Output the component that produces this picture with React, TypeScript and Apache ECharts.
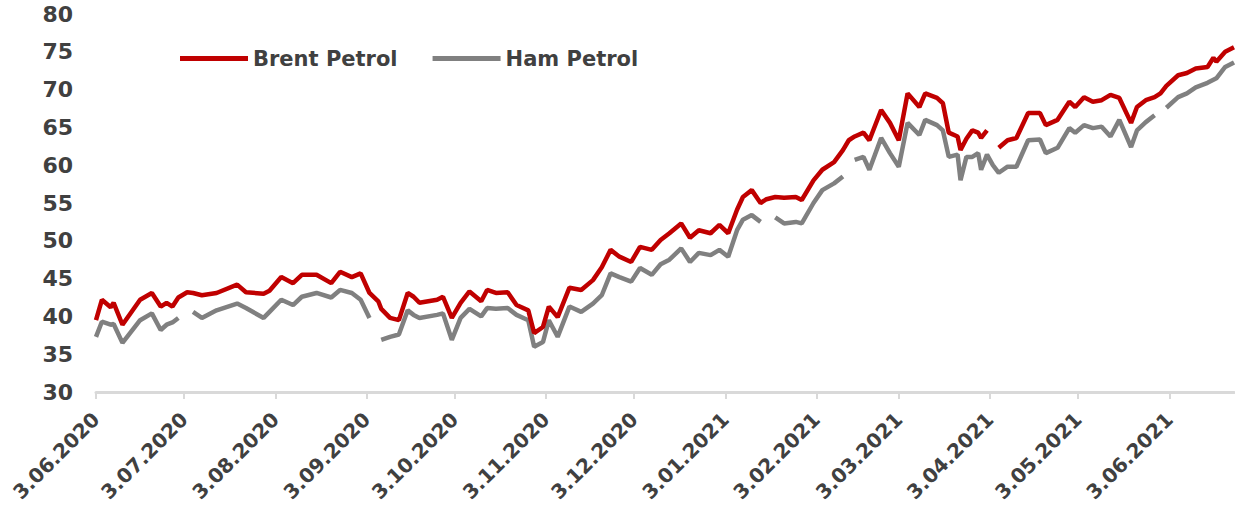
import React, { useEffect, useRef } from "react";
import * as echarts from "echarts";

// Sample dates (calendar days) and closing prices, USD/barrel
const dates = [
  "2020-06-03", "2020-06-05", "2020-06-08", "2020-06-09", "2020-06-12", "2020-06-18", "2020-06-22", "2020-06-25",
  "2020-06-27", "2020-06-29", "2020-07-01", "2020-07-04", "2020-07-06", "2020-07-09", "2020-07-14", "2020-07-21",
  "2020-07-24", "2020-07-30", "2020-08-01", "2020-08-05", "2020-08-09", "2020-08-12", "2020-08-17", "2020-08-22",
  "2020-08-25", "2020-08-29", "2020-09-01", "2020-09-04", "2020-09-07", "2020-09-08", "2020-09-11", "2020-09-14",
  "2020-09-17", "2020-09-19", "2020-09-21", "2020-09-27", "2020-09-29", "2020-10-02", "2020-10-05", "2020-10-08",
  "2020-10-12", "2020-10-14", "2020-10-17", "2020-10-21", "2020-10-24", "2020-10-28", "2020-10-30", "2020-11-02",
  "2020-11-04", "2020-11-07", "2020-11-11", "2020-11-15", "2020-11-19", "2020-11-22", "2020-11-25", "2020-11-28",
  "2020-12-02", "2020-12-05", "2020-12-09", "2020-12-12", "2020-12-15", "2020-12-19", "2020-12-22", "2020-12-25",
  "2020-12-29", "2021-01-01", "2021-01-04", "2021-01-07", "2021-01-09", "2021-01-12", "2021-01-15", "2021-01-17",
  "2021-01-20", "2021-01-23", "2021-01-27", "2021-01-29", "2021-02-02", "2021-02-05", "2021-02-09", "2021-02-12",
  "2021-02-14", "2021-02-16", "2021-02-19", "2021-02-21", "2021-02-25", "2021-02-28", "2021-03-03", "2021-03-06",
  "2021-03-10", "2021-03-12", "2021-03-16", "2021-03-18", "2021-03-20", "2021-03-23", "2021-03-24", "2021-03-26",
  "2021-03-28", "2021-03-30", "2021-03-31", "2021-04-02", "2021-04-04", "2021-04-06", "2021-04-09", "2021-04-12",
  "2021-04-16", "2021-04-20", "2021-04-22", "2021-04-26", "2021-04-30", "2021-05-02", "2021-05-05", "2021-05-08",
  "2021-05-11", "2021-05-14", "2021-05-17", "2021-05-21", "2021-05-23", "2021-05-26", "2021-05-29", "2021-05-31",
  "2021-06-02", "2021-06-06", "2021-06-09", "2021-06-12", "2021-06-16", "2021-06-18", "2021-06-19", "2021-06-22",
  "2021-06-25",
];

// null = no quote that day (line breaks there)
const brent: (number | null)[] = [
  39.5, 42.2, 41.2, 41.8, 38.9, 42.2, 43.1, 41.3,
  41.8, 41.3, 42.5, 43.2, 43.1, 42.8, 43.1, 44.2,
  43.2, 43.0, 43.4, 45.2, 44.4, 45.5, 45.5, 44.4,
  45.9, 45.2, 45.7, 43.1, 42.0, 41.0, 39.8, 39.5,
  43.1, 42.6, 41.8, 42.2, 42.6, 39.8, 41.8, 43.3,
  42.0, 43.5, 43.1, 43.2, 41.5, 40.8, 37.8, 38.6,
  41.3, 39.9, 43.8, 43.5, 44.8, 46.5, 48.8, 47.9,
  47.2, 49.2, 48.8, 50.1, 51.0, 52.3, 50.4, 51.4,
  51.0, 52.1, 51.0, 54.1, 55.8, 56.7, 55.0, 55.5,
  55.8, 55.7, 55.8, 55.4, 58.0, 59.4, 60.4, 62.0,
  63.3, 63.8, 64.3, 63.3, 67.3, 65.6, 63.3, 69.5,
  67.7, 69.5, 68.9, 68.2, 64.3, 63.8, 62.0, 63.5,
  64.6, 64.3, 63.6, 64.6, null, 62.3, 63.3, 63.6,
  66.9, 66.9, 65.3, 66.0, 68.4, 67.7, 69.0, 68.4,
  68.6, 69.3, 68.9, 65.6, 67.7, 68.6, 69.0, 69.5,
  70.5, 71.9, 72.2, 72.8, 73.0, 74.2, 73.7, 75.0,
  75.6,
];

const ham: (number | null)[] = [
  37.3, 39.3, 38.9, 39.0, 36.5, 39.5, 40.4, 38.2,
  38.9, 39.2, 39.8, null, 40.6, 39.8, 40.8, 41.7,
  41.1, 39.8, 40.6, 42.2, 41.5, 42.6, 43.1, 42.5,
  43.5, 43.1, 42.2, 39.8, null, 36.9, 37.3, 37.6,
  40.8, 40.2, 39.8, 40.2, 40.4, 36.9, 39.8, 41.0,
  40.0, 41.1, 41.0, 41.1, 40.2, 39.5, 36.0, 36.6,
  39.5, 37.3, 41.3, 40.6, 41.7, 42.8, 45.7, 45.2,
  44.6, 46.4, 45.5, 46.9, 47.5, 49.0, 47.2, 48.4,
  48.1, 48.8, 47.9, 51.4, 52.8, 53.4, 52.5, null,
  53.1, 52.3, 52.5, 52.3, 55.0, 56.7, 57.6, 58.5,
  null, 60.7, 61.1, 59.4, 63.6, 61.6, 59.8, 65.6,
  64.0, 66.0, 65.3, 64.6, 61.1, 61.4, 58.0, 61.1,
  61.1, 61.6, 59.4, 61.4, 60.0, 59.0, 59.8, 59.8,
  63.3, 63.4, 61.6, 62.3, 64.9, 64.3, 65.3, 64.9,
  65.1, 63.8, 66.0, 62.4, 64.6, 65.7, 66.6, null,
  67.6, 69.0, 69.5, 70.3, 70.9, 71.3, 71.5, 73.0,
  73.6,
];

const seriesNames = ["Brent Petrol", "Ham Petrol"];
const yTicks = { min: 30, max: 80, step: 5 };

// Every calendar day of the period, so spacing follows real time
function calendarDays(from: string, to: string): string[] {
  const out: string[] = [];
  const d = new Date(from + "T00:00:00Z");
  const end = new Date(to + "T00:00:00Z");
  while (d.getTime() <= end.getTime()) {
    out.push(d.toISOString().slice(0, 10));
    d.setUTCDate(d.getUTCDate() + 1);
  }
  return out;
}

const FONT = "DejaVu Sans";
const TEXT = "#404040";

export default function App() {
  const ref = useRef<HTMLDivElement>(null);

  useEffect(() => {
    const chart = echarts.init(ref.current!, null, { renderer: "svg" });
    const days = calendarDays(dates[0], dates[dates.length - 1]);
    const isThird = (_i: number, v: string) => v.slice(8, 10) === "03";
    const pairs = (vals: (number | null)[]) =>
      dates.map((d, i) => [d, vals[i] == null ? "-" : vals[i]]);

    chart.setOption({
      animation: false,
      backgroundColor: "#ffffff",
      grid: { left: 96, right: 1, top: 14, bottom: 121, outerBoundsMode: "none" },
      legend: {
        data: seriesNames,
        left: 180,
        top: 48,
        icon: "rect",
        itemWidth: 68,
        itemHeight: 5,
        itemGap: 35,
        padding: 0,
        textStyle: { fontFamily: FONT, fontWeight: "bold", fontSize: 21, color: TEXT },
      },
      xAxis: {
        type: "category",
        data: days,
        boundaryGap: false,
        axisLine: { lineStyle: { color: "#D9D9D9", width: 3 } },
        axisTick: { show: true, interval: isThird, length: 7, lineStyle: { color: "#D9D9D9", width: 2 } },
        axisLabel: {
          interval: isThird,
          rotate: 45,
          margin: 24,
          fontFamily: FONT,
          fontWeight: "bold",
          fontSize: 20,
          color: TEXT,
          formatter: (v: string) => `${Number(v.slice(8, 10))}.${v.slice(5, 7)}.${v.slice(0, 4)}`,
        },
        splitLine: { show: false },
      },
      yAxis: {
        type: "value",
        min: yTicks.min,
        max: yTicks.max,
        interval: yTicks.step,
        axisLine: { show: false },
        axisTick: { show: false },
        splitLine: { show: false },
        axisLabel: { margin: 23, fontFamily: FONT, fontWeight: "bold", fontSize: 22, color: TEXT },
      },
      series: [
        {
          name: seriesNames[1],
          type: "line",
          data: pairs(ham),
          symbol: "none",
          connectNulls: false,
          itemStyle: { color: "#808080" },
          lineStyle: { color: "#808080", width: 4.5 },
        },
        {
          name: seriesNames[0],
          type: "line",
          data: pairs(brent),
          symbol: "none",
          connectNulls: false,
          itemStyle: { color: "#C00000" },
          lineStyle: { color: "#C00000", width: 4.5 },
        },
      ],
    });
    return () => chart.dispose();
  }, []);

  return (
    <div
      ref={ref}
      style={{ position: "absolute", left: 0, top: 0, width: 1235, height: 513, background: "#fff" }}
    />
  );
}
